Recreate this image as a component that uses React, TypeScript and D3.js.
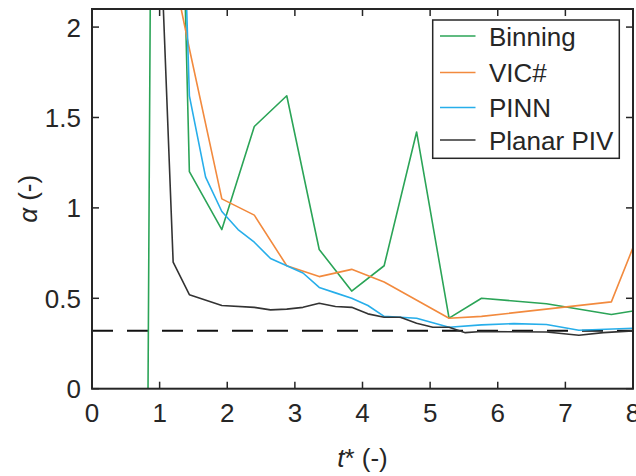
import React from "react";
import * as d3 from "d3";

const tBinning = [0.72, 0.96, 1.44, 1.92, 2.4, 2.88, 3.36, 3.84, 4.32, 4.8, 5.28, 5.76, 6.72, 7.68, 8.0];
const aBinning = [-7.0, 8.5, 1.2, 0.88, 1.45, 1.62, 0.77, 0.54, 0.68, 1.42, 0.39, 0.5, 0.47, 0.41, 0.43];

const tVIC = [0.96, 1.44, 1.92, 2.4, 2.88, 3.36, 3.84, 4.32, 5.28, 5.76, 7.68, 8.0];
const aVIC = [2.75, 1.88, 1.05, 0.96, 0.68, 0.62, 0.66, 0.59, 0.39, 0.4, 0.48, 0.78];

const tPINN = [1.2, 1.44, 1.68, 1.92, 2.16, 2.4, 2.64, 2.88, 3.12, 3.36, 3.6, 3.84, 4.08, 4.32, 4.8, 5.28, 5.76, 6.24, 6.72, 7.2, 8.0];
const aPINN = [4.5, 1.62, 1.17, 0.98, 0.88, 0.81, 0.72, 0.68, 0.64, 0.56, 0.53, 0.5, 0.46, 0.4, 0.39, 0.34, 0.353, 0.36, 0.355, 0.323, 0.334];

const tPIV = [0.96, 1.2, 1.44, 1.92, 2.4, 2.64, 2.88, 3.12, 3.36, 3.6, 3.84, 4.08, 4.32, 4.56, 4.8, 5.04, 5.28, 5.52, 5.76, 6.72, 7.2, 7.56, 8.0];
const aPIV = [3.02, 0.7, 0.52, 0.46, 0.45, 0.436, 0.44, 0.45, 0.473, 0.455, 0.45, 0.414, 0.395, 0.395, 0.362, 0.34, 0.34, 0.31, 0.316, 0.314, 0.296, 0.31, 0.32];

const refValue = 0.32;

const xTicks = [0, 1, 2, 3, 4, 5, 6, 7, 8];
const yTicks = [0, 0.5, 1, 1.5, 2];

const seriesNames = ["Binning", "VIC#", "PINN", "Planar PIV"];
const seriesColors = ["#2ba457", "#f28a3e", "#27aeea", "#333333"];

export default function App() {
  const W = 636, H = 476;
  const L = 92, R = 633, T = 9, B = 388.7;
  const x = d3.scaleLinear().domain([0, 8]).range([L, R]);
  const y = d3.scaleLinear().domain([0, 2.1]).range([B, T]);
  const line = d3.line<[number, number]>().x((d) => x(d[0])).y((d) => y(d[1]));
  const data: [number, number][][] = [
    tBinning.map((t, i) => [t, aBinning[i]]),
    tVIC.map((t, i) => [t, aVIC[i]]),
    tPINN.map((t, i) => [t, aPINN[i]]),
    tPIV.map((t, i) => [t, aPIV[i]]),
  ];
  const axisColor = "#262626";
  const font = "'Liberation Sans', Arial, Helvetica, sans-serif";
  const fs = 26;
  const tickLen = 7;
  const lg = { x0: 432.7, y0: 20, x1: 619.3, y1: 158.3 };
  const rowY = [36, 72.5, 107.5, 140];
  return (
    <div style={{ position: "fixed", left: 0, top: 0 }}>
      <svg width={W} height={H} style={{ display: "block", background: "#fff" }} fontFamily={font}>
        <defs>
          <clipPath id="plotclip">
            <rect x={L} y={T} width={R - L} height={B - T} />
          </clipPath>
        </defs>
        <g clipPath="url(#plotclip)">
          <line x1={L} x2={R} y1={y(refValue)} y2={y(refValue)} stroke="#111" strokeWidth={2} strokeDasharray="21 14" />
          {data.map((d, i) => (
            <path key={i} d={line(d) || ""} fill="none" stroke={seriesColors[i]} strokeWidth={1.6} strokeLinejoin="round" />
          ))}
        </g>
        {/* ticks */}
        {xTicks.map((t) => (
          <g key={"x" + t}>
            <line x1={x(t)} x2={x(t)} y1={B} y2={B - tickLen} stroke={axisColor} strokeWidth={1.5} />
            <line x1={x(t)} x2={x(t)} y1={T} y2={T + tickLen} stroke={axisColor} strokeWidth={1.5} />
            <text x={x(t)} y={421.5} textAnchor="middle" fontSize={fs} fill={axisColor}>{d3.format("")(t)}</text>
          </g>
        ))}
        {yTicks.map((v) => (
          <g key={"y" + v}>
            <line x1={L} x2={L + tickLen} y1={y(v)} y2={y(v)} stroke={axisColor} strokeWidth={1.5} />
            <line x1={R} x2={R - tickLen} y1={y(v)} y2={y(v)} stroke={axisColor} strokeWidth={1.5} />
            <text x={81} y={y(v) + 9.5} textAnchor="end" fontSize={fs} fill={axisColor}>{String(v)}</text>
          </g>
        ))}
        <rect x={L} y={T} width={R - L} height={B - T} fill="none" stroke={axisColor} strokeWidth={2} />
        {/* axis labels */}
        <text x={(L + R) / 2} y={467} textAnchor="middle" fontSize={fs} fill={axisColor}>
          <tspan fontStyle="italic">t</tspan>* (-)
        </text>
        <text transform={`translate(37,${(T + B) / 2}) rotate(-90)`} textAnchor="middle" fontSize={fs} fill={axisColor}>
          <tspan fontStyle="italic">α</tspan> (-)
        </text>
        {/* legend */}
        <rect x={lg.x0} y={lg.y0} width={lg.x1 - lg.x0} height={lg.y1 - lg.y0} fill="#fff" stroke={axisColor} strokeWidth={1.5} />
        {seriesNames.map((n, i) => (
          <g key={n}>
            <line x1={440} x2={475.5} y1={rowY[i]} y2={rowY[i]} stroke={seriesColors[i]} strokeWidth={1.6} />
            <text x={489} y={rowY[i] + 9.5} fontSize={fs} fill={axisColor}>{n}</text>
          </g>
        ))}
      </svg>
    </div>
  );
}
